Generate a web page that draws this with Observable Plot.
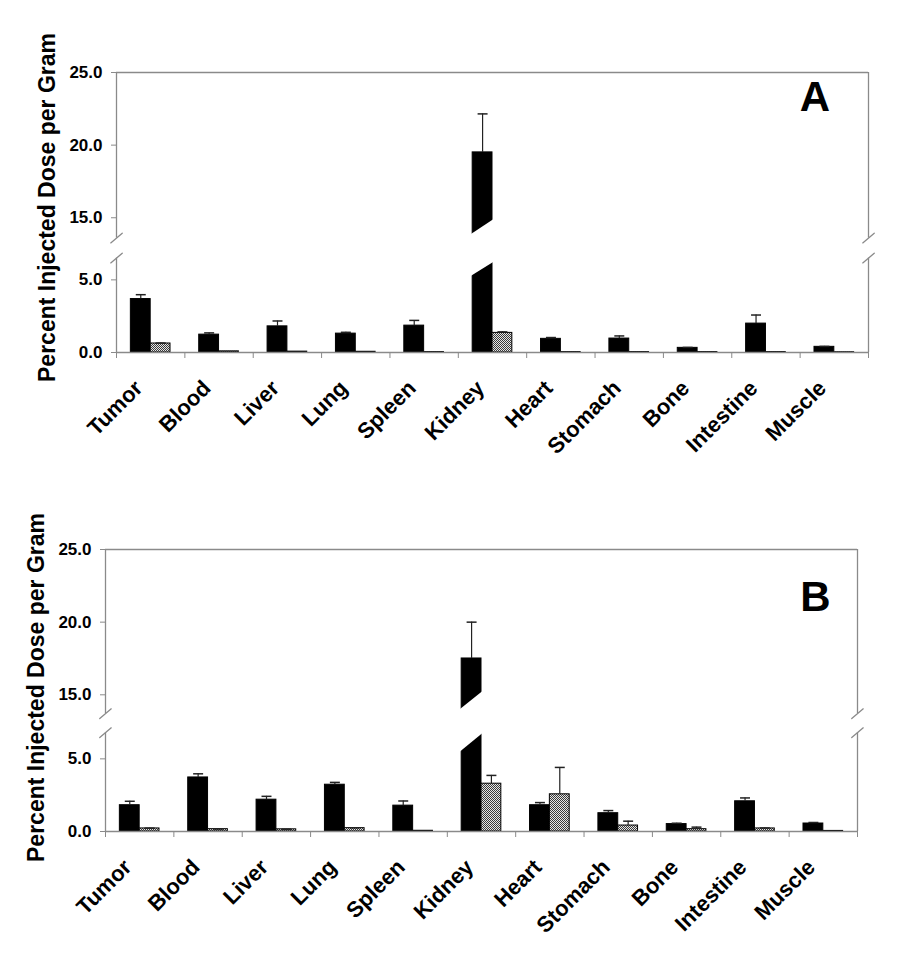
<!DOCTYPE html>
<html><head><meta charset="utf-8">
<script src="https://cdn.jsdelivr.net/npm/d3@7"></script>
<script src="https://cdn.jsdelivr.net/npm/@observablehq/plot@0.6"></script>
<style>
html,body{margin:0;padding:0;background:#fff;}
#chart svg{display:block;}
</style></head><body><div id="chart"></div>
<script>
// ---- data ----
const organs = ["Tumor","Blood","Liver","Lung","Spleen","Kidney","Heart","Stomach","Bone","Intestine","Muscle"];
const yTicks = [0, 5, 15, 20, 25];
const yTitle = "Percent Injected Dose per Gram";
const panelLabels = ["A", "B"];

const aSolid    = [3.68, 1.23, 1.80, 1.30, 1.85, 19.5, 0.94, 0.96, 0.32, 1.99, 0.39];
const aSolidErr = [0.30, 0.12, 0.37, 0.09, 0.36, 2.65, 0.09, 0.18, 0.03, 0.59, 0.03];
const aHatch    = [0.62, 0.08, 0.06, 0.05, 0.03, 1.35, 0.03, 0.03, 0.03, 0.03, 0.02];
const aHatchErr = [0.03, 0, 0, 0, 0, 0.07, 0, 0, 0, 0, 0];

const bSolid    = [1.81, 3.72, 2.19, 3.22, 1.78, 17.5, 1.81, 1.26, 0.51, 2.08, 0.55];
const bSolidErr = [0.27, 0.25, 0.23, 0.16, 0.32, 2.5, 0.18, 0.18, 0.06, 0.23, 0.07];
const bHatch    = [0.21, 0.16, 0.15, 0.23, 0.05, 3.29, 2.56, 0.41, 0.16, 0.21, 0.04];
const bHatchErr = [0.02, 0.01, 0.01, 0.02, 0, 0.57, 1.85, 0.30, 0.14, 0.03, 0];

// ---- layout / style ----
const W = 904, H = 478, yMax = 25;
const FONT = "'Liberation Sans', Arial, Helvetica, sans-serif";
const GRAY = "#8a8a8a";
const slash = {draw(ctx, l) { ctx.moveTo(0, 0); ctx.lineTo(0, -l); }};
const fmt = d3.format(".1f");

function panel(cfg) {
  const {label, solid, solidErr, hatch, hatchErr, mt, mb, ml, mr, gap, lo, hi, cutLo, cutHi, letterDx, letterDy, titleDy, pid} = cfg;
  const plotH = H - mt - mb;
  const g = gap * (lo + yMax - hi) / (plotH - gap);      // break size in scale units
  // broken-axis transform (data value -> scale value) and its inverse
  const T = v => v <= lo ? v : v >= hi ? v - hi + lo + g : lo + (v - lo) / (hi - lo) * g;
  const Tinv = u => u <= lo ? u : u >= lo + g ? u + hi - lo - g : lo + (u - lo) / g * (hi - lo);

  const rows = organs.map((o, i) => ({i, organ: o, s: solid[i], se: solidErr[i], h: hatch[i], he: hatchErr[i]}));
  const errs = [];
  rows.forEach(r => {
    if (r.se > 0) errs.push({c: r.i + 0.355, v: r.s, t: r.s + r.se});
    if (r.he > 0) errs.push({c: r.i + 0.645, v: r.h, t: r.h + r.he});
  });
  // white break band across the tall Kidney bar
  const ki = organs.indexOf("Kidney");
  const x0 = ki + 0.21, x1 = ki + 0.5, ext = 0.04;
  const slopeLo = (cutLo[1] - cutLo[0]) / (x1 - x0), slopeHi = (cutHi[1] - cutHi[0]) / (x1 - x0);
  const cut = [
    {x: x0 - ext, y1: cutLo[0] - slopeLo * ext, y2: cutHi[0] - slopeHi * ext},
    {x: x1 + ext, y1: cutLo[1] + slopeLo * ext, y2: cutHi[1] + slopeHi * ext}
  ];
  const n = organs.length;
  const breaks = [{x: 0, y: lo}, {x: 0, y: hi}, {x: n, y: lo}, {x: n, y: hi}];

  const svg = Plot.plot({
    width: W, height: H,
    marginTop: mt, marginBottom: mb, marginLeft: ml, marginRight: mr,
    style: {fontFamily: FONT, color: "black", background: "white"},
    x: {domain: [0, n]},
    y: {domain: [0, T(yMax)], transform: T},
    marks: [
      Plot.rect(rows, {x1: d => d.i + 0.21, x2: d => d.i + 0.5, y1: () => 0, y2: "s", fill: "black", stroke: "black", strokeWidth: 1}),
      Plot.rect(rows, {x1: d => d.i + 0.5, x2: d => d.i + 0.79, y1: () => 0, y2: "h", fill: `url(#${pid})`, stroke: "black", strokeWidth: 1}),
      Plot.areaY(cut, {x: "x", y1: "y1", y2: "y2", fill: "white"}),
      // frame
      Plot.ruleX([0, n], {y1: () => 0, y2: () => lo, stroke: GRAY, strokeWidth: 1.3}),
      Plot.ruleX([0, n], {y1: () => hi, y2: () => yMax, stroke: GRAY, strokeWidth: 1.3}),
      Plot.ruleY([yMax], {x1: () => 0, x2: () => n, stroke: GRAY, strokeWidth: 1.3}),
      Plot.ruleY([0], {x1: () => 0, x2: () => n, stroke: GRAY, strokeWidth: 1.6}),
      Plot.vector(breaks, {x: "x", y: "y", length: 15, rotate: 50, anchor: "middle", shape: slash, stroke: GRAY, strokeWidth: 1.3}),
      // error bars
      Plot.ruleX(errs, {x: "c", y1: "v", y2: "t", stroke: "#222", strokeWidth: 1.2}),
      Plot.link(errs, {x1: d => d.c - 0.073, x2: d => d.c + 0.073, y1: "t", y2: "t", stroke: "#222", strokeWidth: 1.5}),
      // axes (axis ticks live in scale space, so map them through T and label with the data value)
      Plot.axisY({ticks: yTicks.map(T), tickFormat: u => fmt(Tinv(u)), tickSize: 5, tickPadding: 9, fontSize: 17, fontWeight: "bold", stroke: GRAY, fill: "black", label: null}),
      Plot.axisX({ticks: d3.range(n + 1), tickFormat: () => "", tickSize: 6, stroke: GRAY, label: null}),
      Plot.text(rows, {x: d => d.i + 0.5, frameAnchor: "bottom", text: "organ", rotate: -45, textAnchor: "end", lineAnchor: "top", dx: -18, dy: 26, fontSize: 22, fontWeight: "bold", fill: "black"}),
      Plot.text([yTitle], {frameAnchor: "left", rotate: -90, dx: -69, dy: titleDy, textAnchor: "middle", lineAnchor: "middle", fontSize: 23, fontWeight: "bold", fill: "black"}),
      Plot.text([label], {frameAnchor: "top-right", dx: letterDx, dy: letterDy, textAnchor: "middle", lineAnchor: "middle", fontSize: 42, fontWeight: "bold", fill: "black"})
    ]
  });
  d3.select(svg).insert("defs", ":first-child").html(
    `<pattern id="${pid}" patternUnits="userSpaceOnUse" width="2" height="2">` +
    `<rect width="2" height="2" fill="#e6e6e6"/>` +
    `<rect x="0" y="0" width="1" height="1" fill="#3a3a3a"/>` +
    `<rect x="1" y="1" width="1" height="1" fill="#3a3a3a"/></pattern>`);
  return svg;
}

const root = document.getElementById("chart");
root.appendChild(panel({label: panelLabels[0], solid: aSolid, solidErr: aSolidErr, hatch: aHatch, hatchErr: aHatchErr,
  mt: 72, mb: 126, ml: 116, mr: 36, gap: 20, lo: 6.5, hi: 13.6, cutLo: [5.3, 6.15], cutHi: [13.9, 14.8],
  letterDx: -53.5, letterDy: 25, titleDy: -5, pid: "hatchA"}));
root.appendChild(panel({label: panelLabels[1], solid: bSolid, solidErr: bSolidErr, hatch: bHatch, hatchErr: bHatchErr,
  mt: 71, mb: 125, ml: 105, mr: 47, gap: 19, lo: 6.8, hi: 13.7, cutLo: [5.55, 6.7], cutHi: [14.05, 15.15],
  letterDx: -42, letterDy: 48, titleDy: -3, pid: "hatchB"}));
</script></body></html>
